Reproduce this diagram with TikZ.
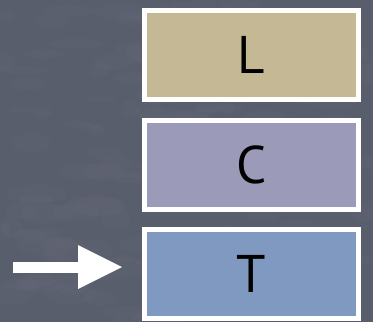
\documentclass[tikz,border=0pt]{standalone}
\usepackage{fontspec}
\setmainfont{PT Sans}
\usetikzlibrary{arrows.meta}
\definecolor{slate}{RGB}{89,94,109}
\definecolor{speck}{RGB}{120,124,138}
\definecolor{tanfill}{RGB}{196,184,149}
\definecolor{lavfill}{RGB}{155,154,184}
\definecolor{bluefill}{RGB}{127,153,192}
\tikzset{
  layerbox/.style={draw=white, line width=5pt, minimum width=214pt,
    minimum height=89pt, inner sep=0pt, font=\fontsize{53}{53}\selectfont,
    text=black},
  pointer/.style={white, line width=11pt,
    -{Triangle[length=44pt,width=44pt,line width=0pt]}}
}
\begin{document}
\begin{tikzpicture}[x=1pt,y=-1pt]
  \fill[slate] (0,0) rectangle (373,322);
  \useasboundingbox (0,0) rectangle (373,322);
  % faint mottling of the stone backdrop
  \pgfmathsetseed{7}
  \foreach \i in {1,...,160}{
    \pgfmathsetmacro{\px}{rnd*373}
    \pgfmathsetmacro{\py}{rnd*322}
    \pgfmathsetmacro{\pw}{6+rnd*24}
    \pgfmathsetmacro{\ph}{3+rnd*8}
    \fill[speck, opacity=0.07] (\px,\py) ellipse [x radius=\pw, y radius=\ph];
  }
  \node[layerbox, fill=tanfill] (L) at (251.5,55) {L};
  \node[layerbox, fill=lavfill] (C) at (251.5,164.5) {C};
  \node[layerbox, fill=bluefill] (T) at (251.5,274) {T};
  \coordinate (tail) at (13,267);
  \draw[pointer] (tail) -- ([xshift=-20pt]T.west |- tail);
\end{tikzpicture}
\end{document}
